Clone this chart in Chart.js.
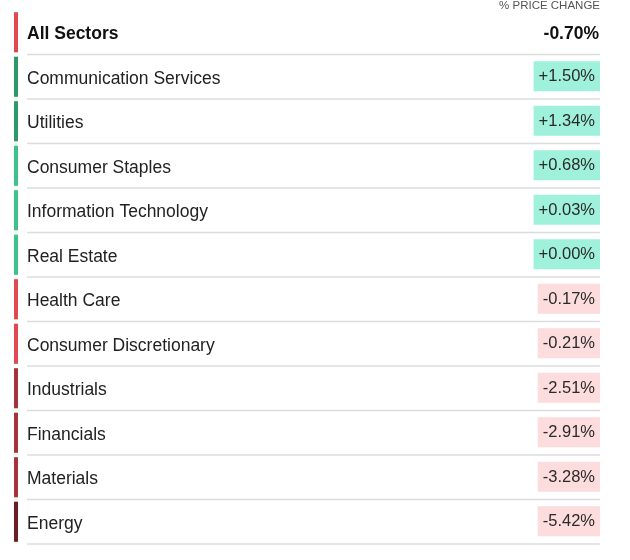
<!DOCTYPE html>
<html>
<head>
<meta charset="utf-8">
<script src="https://cdn.jsdelivr.net/npm/chart.js@4.4.1/dist/chart.umd.min.js"></script>
<style>
  html, body { margin: 0; padding: 0; background: #ffffff; }
  #wrap { width: 630px; height: 560px; position: relative; }
</style>
</head>
<body>
<div id="wrap"><canvas id="c" width="630" height="560"></canvas></div>
<script>
// ---- data ----
const sectors = [
  "All Sectors",
  "Communication Services",
  "Utilities",
  "Consumer Staples",
  "Information Technology",
  "Real Estate",
  "Health Care",
  "Consumer Discretionary",
  "Industrials",
  "Financials",
  "Materials",
  "Energy"
];
const changes = [-0.70, 1.50, 1.34, 0.68, 0.03, 0.00, -0.17, -0.21, -2.51, -2.91, -3.28, -5.42];
const headerLabel = "% PRICE CHANGE";

// ---- styles ----
const FONT = "'Liberation Sans', Arial, Helvetica, sans-serif";
function markerColor(v) {
  if (v >= 1) return "#2c9a66";
  if (v >= 0) return "#3cc38a";
  if (v > -1) return "#e2494e";
  if (v > -5) return "#a5333a";
  return "#6a1e24";
}
function boxColor(v) { return v >= 0 ? "#9ff1dc" : "#fcdcdc"; }
function fmt(v) { return (v >= 0 ? "+" : "-") + Math.abs(v).toFixed(2) + "%"; }

const tablePlugin = {
  id: "tablePlugin",
  afterDatasetsDraw(chart) {
    const ctx = chart.ctx;
    const ys = chart.scales.y;
    const area = chart.chartArea;
    const n = sectors.length;
    const rowH = (area.bottom - area.top) / n;
    const left = area.left, right = area.right;
    ctx.save();
    // header
    ctx.font = "11.5px " + FONT;
    ctx.fillStyle = "#555";
    ctx.textAlign = "right";
    ctx.textBaseline = "alphabetic";
    ctx.fillText(headerLabel, right, 8.5);

    sectors.forEach((name, i) => {
      const cy = ys.getPixelForValue(i);
      const v = changes[i];
      // marker
      ctx.fillStyle = markerColor(v);
      ctx.fillRect(left, cy - rowH / 2 + 2.2, 4, rowH - 4.4);
      // separator
      ctx.strokeStyle = "#dcdcdc";
      ctx.lineWidth = 1.5;
      ctx.beginPath();
      const sy = cy + rowH / 2;
      ctx.moveTo(left + 13, sy);
      ctx.lineTo(right, sy);
      ctx.stroke();
      // label
      ctx.textAlign = "left";
      if (i === 0) {
        ctx.font = "bold 17.5px " + FONT;
        ctx.fillStyle = "#111";
        ctx.fillText(name, left + 13, cy + 6.3);
        ctx.textAlign = "right";
        ctx.fillText(fmt(v), right - 1, cy + 6.3);
      } else {
        ctx.font = "17.5px " + FONT;
        ctx.fillStyle = "#222";
        ctx.fillText(name, left + 13, cy + 7);
        ctx.font = "16.5px " + FONT;
        const txt = fmt(v);
        const w = ctx.measureText(txt).width;
        ctx.fillStyle = boxColor(v);
        ctx.fillRect(right - w - 10, cy - 15.5, w + 10, 30);
        ctx.fillStyle = "#2a2a2a";
        ctx.textAlign = "right";
        ctx.fillText(txt, right - 5, cy + 4.3);
      }
    });
    ctx.restore();
  }
};

new Chart(document.getElementById("c"), {
  type: "bar",
  data: {
    labels: sectors,
    datasets: [{
      label: headerLabel,
      data: changes,
      backgroundColor: "rgba(0,0,0,0)",
      borderWidth: 0
    }]
  },
  options: {
    indexAxis: "y",
    responsive: false,
    animation: false,
    events: [],
    layout: { padding: { top: 10, bottom: 16, left: 14, right: 30 } },
    plugins: { legend: { display: false }, tooltip: { enabled: false } },
    scales: {
      x: { display: false, min: -6, max: 2 },
      y: { display: false, offset: true }
    }
  },
  plugins: [tablePlugin]
});
</script>
</body>
</html>
